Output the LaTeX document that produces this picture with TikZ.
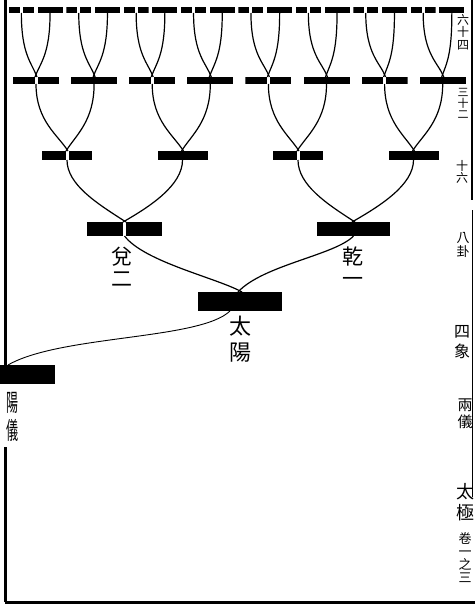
\documentclass[tikz,border=0pt]{standalone}
\usepackage{fontspec}
\newfontfamily\cjk{Noto Sans CJK TC}
\begin{document}
\begin{tikzpicture}[x=1pt,y=-1pt,
  yang/.style={rectangle, fill=black, inner sep=0pt, outer sep=0pt},
  yin/.style={rectangle, inner sep=0pt, outer sep=0pt, path picture={
    \fill (path picture bounding box.south west) rectangle ([xshift=-1.5pt]path picture bounding box.north);
    \fill ([xshift=1.5pt]path picture bounding box.south) rectangle (path picture bounding box.north east);}},
  bw/.style={minimum width=#1},
  bh/.style={minimum height=#1},
  conn/.style={line width=1.2pt},
  thinconn/.style={line width=0.9pt},
  frame/.style={line width=2.2pt},
  lab/.style={inner sep=0pt, align=center},
  rlab/.style={inner sep=0pt, align=center}
]
\useasboundingbox (0,0) rectangle (475,610);
% ---- frame
\draw[frame] (5.5,0) -- (5.5,366);
\draw[frame] (5.5,447) -- (5.5,602);
\draw[line width=3pt] (4.5,602) -- (475,602);
\draw[line width=1.3pt] (472,0) -- (472,200);
\draw[line width=1.3pt] (472.5,210) -- (472.5,497);
% ---- level 64
\foreach \i in {0,...,15}{
  \pgfmathsetmacro\xx{21.35+28.7*\i}
  \ifodd\i
    \node[yang,bw=25pt,bh=6pt] (t\i) at (\xx,10) {};
  \else
    \node[yin,bw=25pt,bh=6pt] (t\i) at (\xx,10) {};
  \fi
}
% ---- level 32
\foreach \i in {0,...,7}{
  \pgfmathsetmacro\xx{36+58.1*\i}
  \ifodd\i
    \node[yang,bw=46pt,bh=7pt] (s\i) at (\xx,80.5) {};
  \else
    \node[yin,bw=46pt,bh=7pt] (s\i) at (\xx,80.5) {};
  \fi
}
% ---- level 16
\foreach \i in {0,...,3}{
  \pgfmathsetmacro\xx{67+115.5*\i}
  \ifodd\i
    \node[yang,bw=50pt,bh=9pt] (f\i) at (\xx,155.5) {};
  \else
    \node[yin,bw=50pt,bh=9pt] (f\i) at (\xx,155.5) {};
  \fi
}
% ---- level 8
\node[yin,bw=75pt,bh=14pt] (dui) at (124.5,229) {};
\node[yang,bw=73pt,bh=14pt] (qian) at (353.5,229) {};
% ---- level 4
\node[yang,bw=84pt,bh=19pt] (taiyang) at (240,301.5) {};
% ---- level 2
\node[yang,bw=94pt,bh=19pt] (yangyi) at (8,374.5) {};
% ---- connectors 64 -> 32
\foreach \j in {0,...,7}{
  \pgfmathtruncatemacro\l{2*\j}
  \pgfmathtruncatemacro\r{2*\j+1}
  \draw[conn] (t\l.south) .. controls +(0,42) and +(-5,-14) .. ([xshift=1pt]s\j.north);
  \draw[conn] (t\r.south) .. controls +(0,42) and +(5,-14) .. ([xshift=-1pt]s\j.north);
}
% ---- connectors 32 -> 16
\foreach \j in {0,...,3}{
  \pgfmathtruncatemacro\l{2*\j}
  \pgfmathtruncatemacro\r{2*\j+1}
  \draw[conn] (s\l.south) .. controls +(0,37) and +(-10,-16) .. ([xshift=1pt]f\j.north);
  \draw[conn] (s\r.south) .. controls +(0,37) and +(10,-16) .. ([xshift=-1pt]f\j.north);
}
% ---- connectors 16 -> 8
\draw[conn] (f0.south) .. controls +(0,25) and +(-28,-18) .. ([xshift=1.5pt]dui.north);
\draw[conn] (f1.south) .. controls +(0,25) and +(28,-16) .. ([xshift=-1.5pt]dui.north);
\draw[conn] (f2.south) .. controls +(0,25) and +(-28,-18) .. ([xshift=1.5pt]qian.north);
\draw[conn] (f3.south) .. controls +(0,25) and +(28,-16) .. ([xshift=-1.5pt]qian.north);
% ---- connectors 8 -> 4
\draw[conn] (dui.south) .. controls +(20,26) and +(-25,-14) .. ([xshift=2pt]taiyang.north);
\draw[conn] (qian.south) .. controls +(-18,19) and +(25,-27) .. ([xshift=-2pt]taiyang.north);
% ---- connector 4 -> 2
\draw[thinconn] ([xshift=-10pt]taiyang.south) .. controls +(-30,29) and +(52,-30) .. (yangyi.north);
% ---- labels
\node[lab, font=\cjk\fontsize{21}{22}\selectfont] (duilab) at (122,267) {兌\\二};
\node[lab, font=\cjk\fontsize{21}{22}\selectfont] (qianlab) at (353,267) {乾\\一};
\node[lab, font=\cjk\fontsize{22}{26}\selectfont] (tylab) at (240,339) {太\\陽};
\node[lab, font=\cjk\fontsize{24}{28}\selectfont] (yylab) at (12.5,417) {\scalebox{0.5}[1]{陽}\\\scalebox{0.5}[1]{儀}};
% ---- right column
\node[rlab, font=\cjk\fontsize{12}{12.5}\selectfont] (r64) at (463,32) {六\\十\\四};
\node[rlab, font=\cjk\fontsize{11}{11}\selectfont] (r32) at (463,103) {三\\十\\二};
\node[rlab, font=\cjk\fontsize{12}{12}\selectfont] (r16) at (462,172) {十\\六};
\node[rlab, font=\cjk\fontsize{13}{14}\selectfont] (r8) at (463,245) {八\\卦};
\node[rlab, font=\cjk\fontsize{16}{20}\selectfont] (r4) at (462,342) {四\\象};
\node[rlab, font=\cjk\fontsize{15}{17}\selectfont] (r2) at (465,414) {兩\\儀};
\node[rlab, font=\cjk\fontsize{18}{21}\selectfont] (r1) at (465,502) {太\\極};
\node[rlab, font=\cjk\fontsize{13}{13}\selectfont] (rp) at (465,558) {卷\\一\\之\\三};
\end{tikzpicture}
\end{document}
